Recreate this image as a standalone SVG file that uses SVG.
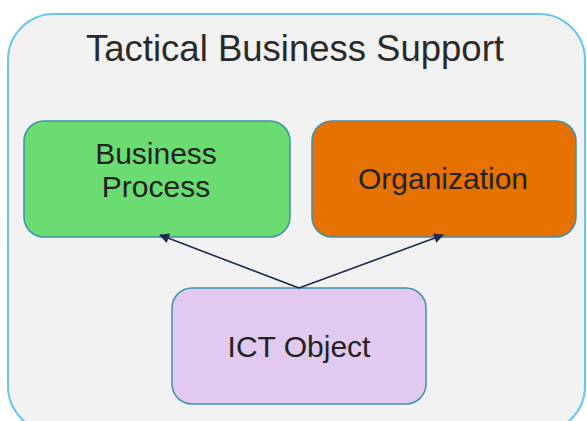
<svg xmlns="http://www.w3.org/2000/svg" width="587" height="421" viewBox="0 0 587 421">
<style>
.node{stroke:#3f8fb0;stroke-width:1.5}
.lbl{font-family:"Liberation Sans",Arial,sans-serif;font-size:30px;fill:#222;text-anchor:middle}
.title{font-family:"Liberation Sans",Arial,sans-serif;font-size:36.5px;fill:#2a2a2a;text-anchor:middle}
.conn{stroke:#1f2a4a;stroke-width:1.6;fill:none;marker-end:url(#ah)}
</style>
<defs>
<marker id="ah" viewBox="0 0 10 10" refX="9" refY="5" markerWidth="11" markerHeight="10" orient="auto" markerUnits="userSpaceOnUse">
<path d="M0,0 L10,5 L0,10 z" fill="#1f2a4a"/>
</marker>
</defs>
<rect width="587" height="421" fill="#ffffff"/>
<g id="container">
<rect x="8" y="14" width="577" height="418" rx="46" ry="46" fill="#f2f2f2" stroke="#66c6f0" stroke-width="2"/>
<text class="title" x="295" y="61">Tactical Business Support</text>
</g>
<g id="business-process">
<rect class="node" x="24" y="121" width="266" height="116" rx="20" fill="#6adc72"/>
<text class="lbl" x="156" y="164">Business</text>
<text class="lbl" x="156" y="197">Process</text>
</g>
<g id="organization">
<rect class="node" x="312" y="121" width="264" height="116" rx="20" fill="#e57200"/>
<text class="lbl" x="443" y="189">Organization</text>
</g>
<g id="ict-object">
<rect class="node" x="172" y="288" width="254" height="116" rx="20" fill="#e1c9f0"/>
<text class="lbl" x="299" y="357">ICT Object</text>
</g>
<g id="connectors">
<line class="conn" x1="299" y1="288" x2="160" y2="235"/>
<line class="conn" x1="299" y1="288" x2="443" y2="235"/>
</g>
</svg>
